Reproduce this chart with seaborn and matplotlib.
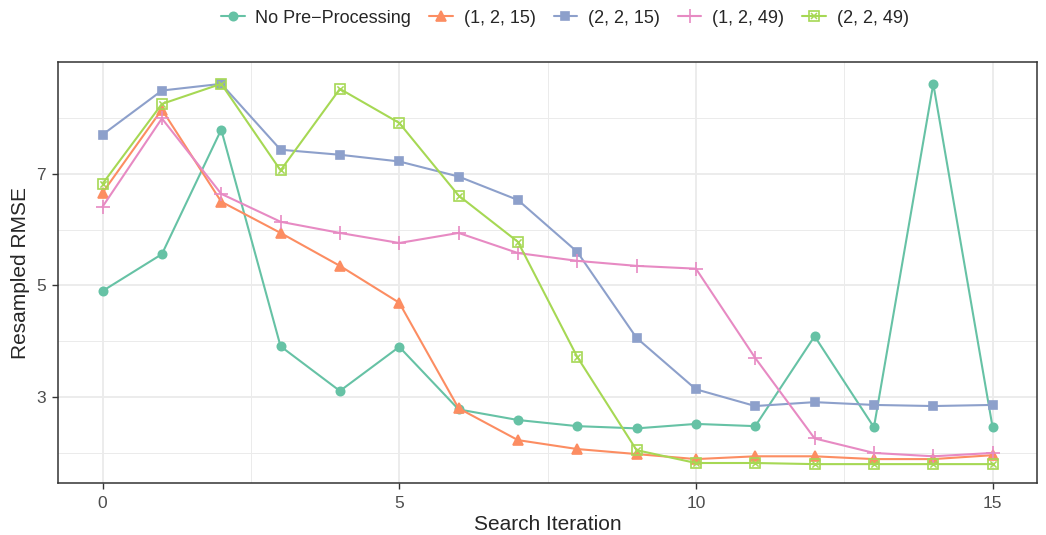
import numpy as np
import pandas as pd
import matplotlib
matplotlib.use("Agg")
import matplotlib.pyplot as plt
import seaborn as sns
from matplotlib.lines import Line2D
from matplotlib.legend_handler import HandlerTuple
from matplotlib.ticker import MultipleLocator

# valori
iterations = list(range(16))
configs = ["No Pre\u2212Processing", "(1, 2, 15)", "(2, 2, 15)", "(1, 2, 49)", "(2, 2, 49)"]
no_pre = [4.90, 5.56, 7.79, 3.91, 3.11, 3.90, 2.78, 2.59, 2.48, 2.44, 2.52, 2.48, 4.09, 2.46, 8.61, 2.46]
c_1_2_15 = [6.66, 8.15, 6.50, 5.94, 5.35, 4.69, 2.80, 2.23, 2.07, 1.98, 1.89, 1.94, 1.94, 1.89, 1.89, 1.96]
c_2_2_15 = [7.70, 8.49, 8.61, 7.43, 7.34, 7.22, 6.95, 6.53, 5.60, 4.06, 3.14, 2.84, 2.91, 2.86, 2.84, 2.86]
c_1_2_49 = [6.41, 7.99, 6.64, 6.14, 5.94, 5.76, 5.94, 5.58, 5.44, 5.35, 5.30, 3.70, 2.26, 2.00, 1.94, 2.00]
c_2_2_49 = [6.82, 8.25, 8.61, 7.06, 8.52, 7.91, 6.61, 5.78, 3.72, 2.05, 1.82, 1.82, 1.80, 1.80, 1.80, 1.80]

series = [no_pre, c_1_2_15, c_2_2_15, c_1_2_49, c_2_2_49]
df = pd.concat([pd.DataFrame({"iter": iterations, "rmse": s, "config": c})
                for c, s in zip(configs, series)], ignore_index=True)

colors = sns.color_palette("Set2", 5)
marker_list = ["o", "^", "s", "+", "s"]
size_list = [6, 6.5, 6, 10, 7]

sns.set_style("white")
plt.rcParams["font.family"] = ["Liberation Sans", "DejaVu Sans"]

fig = plt.figure(figsize=(10.46, 5.35), dpi=100)
ax = fig.add_axes([0.0555, 0.097, 0.936, 0.787])

for i, c in enumerate(configs):
    sub = df[df["config"] == c]
    kw = dict(mfc="none") if i == 4 else {}
    sns.lineplot(data=sub, x="iter", y="rmse", color=colors[i], marker=marker_list[i],
                 markersize=size_list[i], markeredgewidth=1.2, markeredgecolor=colors[i],
                 linewidth=1.5, ax=ax, legend=False, **kw)
    if i == 4:
        # quadrato con la x dentro
        sns.scatterplot(data=sub, x="iter", y="rmse", marker="x", color=colors[i],
                        s=20, linewidth=1.1, legend=False, ax=ax, zorder=5)

ax.set_xlim(-0.75, 15.75)
ax.set_ylim(1.46, 9.0)
ax.xaxis.set_major_locator(MultipleLocator(5))
ax.xaxis.set_minor_locator(MultipleLocator(2.5))
ax.set_yticks([3, 5, 7])
ax.set_yticks([2, 4, 6, 8], minor=True)
ax.grid(which="major", color="#ebebeb", linewidth=1.3)
ax.grid(which="minor", color="#ebebeb", linewidth=0.7)
ax.set_axisbelow(True)
for sp in ax.spines.values():
    sp.set_color("#333333")
    sp.set_linewidth(1.1)
ax.tick_params(which="major", bottom=True, left=True, length=4, width=1.0, color="#333333",
               labelsize=12.5, labelcolor="#4d4d4d", pad=5)
ax.tick_params(which="minor", length=0)
ax.set_xlabel("Search Iteration", fontsize=15, labelpad=3)
ax.set_ylabel("Resampled RMSE", fontsize=15)

handles = []
for i, c in enumerate(configs):
    if i == 4:
        h1 = Line2D([], [], color=colors[i], lw=1.5, marker="s", mfc="none", ms=7, mew=1.2)
        h2 = Line2D([], [], color=colors[i], lw=0, marker="x", ms=4.5, mew=1.1)
        handles.append((h1, h2))
    else:
        handles.append(Line2D([], [], color=colors[i], lw=1.5, marker=marker_list[i],
                              ms=size_list[i], mew=1.2))
fig.legend(handles, configs, loc="center", bbox_to_anchor=(0.54, 0.966), ncol=5,
           frameon=False, fontsize=13, handlelength=1.3, handletextpad=0.6,
           columnspacing=1.0, handler_map={tuple: HandlerTuple(ndivide=1)})

fig.savefig("out.png", dpi=100)
